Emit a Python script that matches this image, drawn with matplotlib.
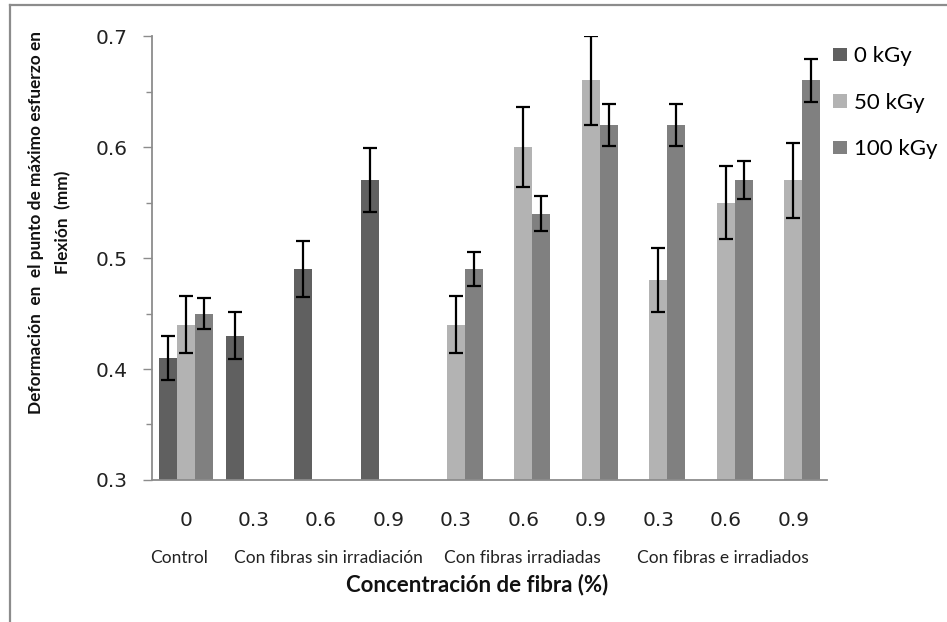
import numpy as np
import matplotlib
matplotlib.use("Agg")
import matplotlib.pyplot as plt
from matplotlib.lines import Line2D

# concentration labels along x and the treatment groups under them
conc_labels = ["0", "0.3", "0.6", "0.9", "0.3", "0.6", "0.9", "0.3", "0.6", "0.9"]
group_names = ["Control", "Con fibras sin irradiación", "Con fibras irradiadas",
               "Con fibras e irradiados"]
group_pos = [-0.1, 2.12, 4.98, 7.96]

series_names = ["0 kGy", "50 kGy", "100 kGy"]
nan = np.nan
dose_0 = [0.41, 0.43, 0.49, 0.57, nan, nan, nan, nan, nan, nan]
dose_50 = [0.44, nan, nan, nan, 0.44, 0.60, 0.66, 0.48, 0.55, 0.57]
dose_100 = [0.45, nan, nan, nan, 0.49, 0.54, 0.62, 0.62, 0.57, 0.66]
err_0 = [0.020, 0.021, 0.025, 0.029, nan, nan, nan, nan, nan, nan]
err_50 = [0.026, nan, nan, nan, 0.026, 0.036, 0.040, 0.029, 0.033, 0.034]
err_100 = [0.014, nan, nan, nan, 0.015, 0.016, 0.019, 0.019, 0.017, 0.019]

colors = ["#606060", "#b3b3b3", "#808080"]

fig = plt.figure(figsize=(9.47, 6.22), dpi=100)
ax = fig.add_axes([0.1605, 0.2283, 0.7128, 0.7138])

x = np.arange(len(conc_labels))
w = 0.8 / 3
for i, (vals, errs) in enumerate([(dose_0, err_0), (dose_50, err_50), (dose_100, err_100)]):
    pos = x - w + i * w
    ax.bar(pos, vals, width=w, color=colors[i], label=series_names[i], zorder=2)
    ax.errorbar(pos, vals, yerr=errs, fmt="none", ecolor="black", elinewidth=1.6,
                capsize=4.7, capthick=1.6, zorder=3)

ax.set_xlim(-0.5, len(conc_labels) - 0.5)
ax.set_ylim(0.3, 0.7)
ax.set_yticks([0.3, 0.4, 0.5, 0.6, 0.7])
ax.set_yticklabels(["0.3", "0.4", "0.5", "0.6", "0.7"])
ax.set_yticks(np.arange(0.35, 0.7, 0.1), minor=True)
ax.set_xticks(x)
ax.set_xticklabels(conc_labels)

for s in ["top", "right"]:
    ax.spines[s].set_visible(False)
for s in ["left", "bottom"]:
    ax.spines[s].set_color("#8c8c8c")
    ax.spines[s].set_linewidth(1.3)

ax.tick_params(axis="y", which="major", length=6.5, width=1.0, color="#8c8c8c",
               labelsize=14.5, pad=11, labelcolor="#222222")
ax.tick_params(axis="y", which="minor", length=4.3, width=1.0, color="#8c8c8c")
ax.tick_params(axis="x", length=0, labelsize=14.5, pad=22, labelcolor="#222222")

# treatment group names under the concentrations
for name, gx in zip(group_names, group_pos):
    ax.text(gx, -0.1757, name, transform=ax.get_xaxis_transform(), ha="center",
            va="center", fontsize=12.5, family="Lato", color="#222222")

fig.text(0.504, 0.061, "Concentración de fibra (%)", ha="center", va="center",
         fontsize=16, family="Lato", fontweight="bold", color="#111111")

# y label on two centred lines
ylab = dict(rotation=90, ha="center", va="center", fontsize=12.4, family="Lato",
            fontweight="bold", color="#111111")
fig.text(36 / 947, 0.643, "Deformación  en  el punto de máximo esfuerzo en", **ylab)
fig.text(63 / 947, 0.643, "Flexión  (mm)", **ylab)

ax.legend(loc="upper left", bbox_to_anchor=(0.858, 0.958), bbox_transform=fig.transFigure,
          frameon=False, handlelength=0.65, handleheight=0.55, handletextpad=0.32,
          labelspacing=1.2, prop={"family": "Lato", "size": 16})

# gray frame around the chart area
fig.add_artist(Line2D([10 / 947, 1], [1 - 5 / 622, 1 - 5 / 622], color="#8c8c8c",
                      lw=1.6, transform=fig.transFigure))
fig.add_artist(Line2D([10 / 947, 10 / 947], [0, 1 - 5 / 622], color="#8c8c8c",
                      lw=1.6, transform=fig.transFigure))

fig.savefig("out.png", dpi=100)
